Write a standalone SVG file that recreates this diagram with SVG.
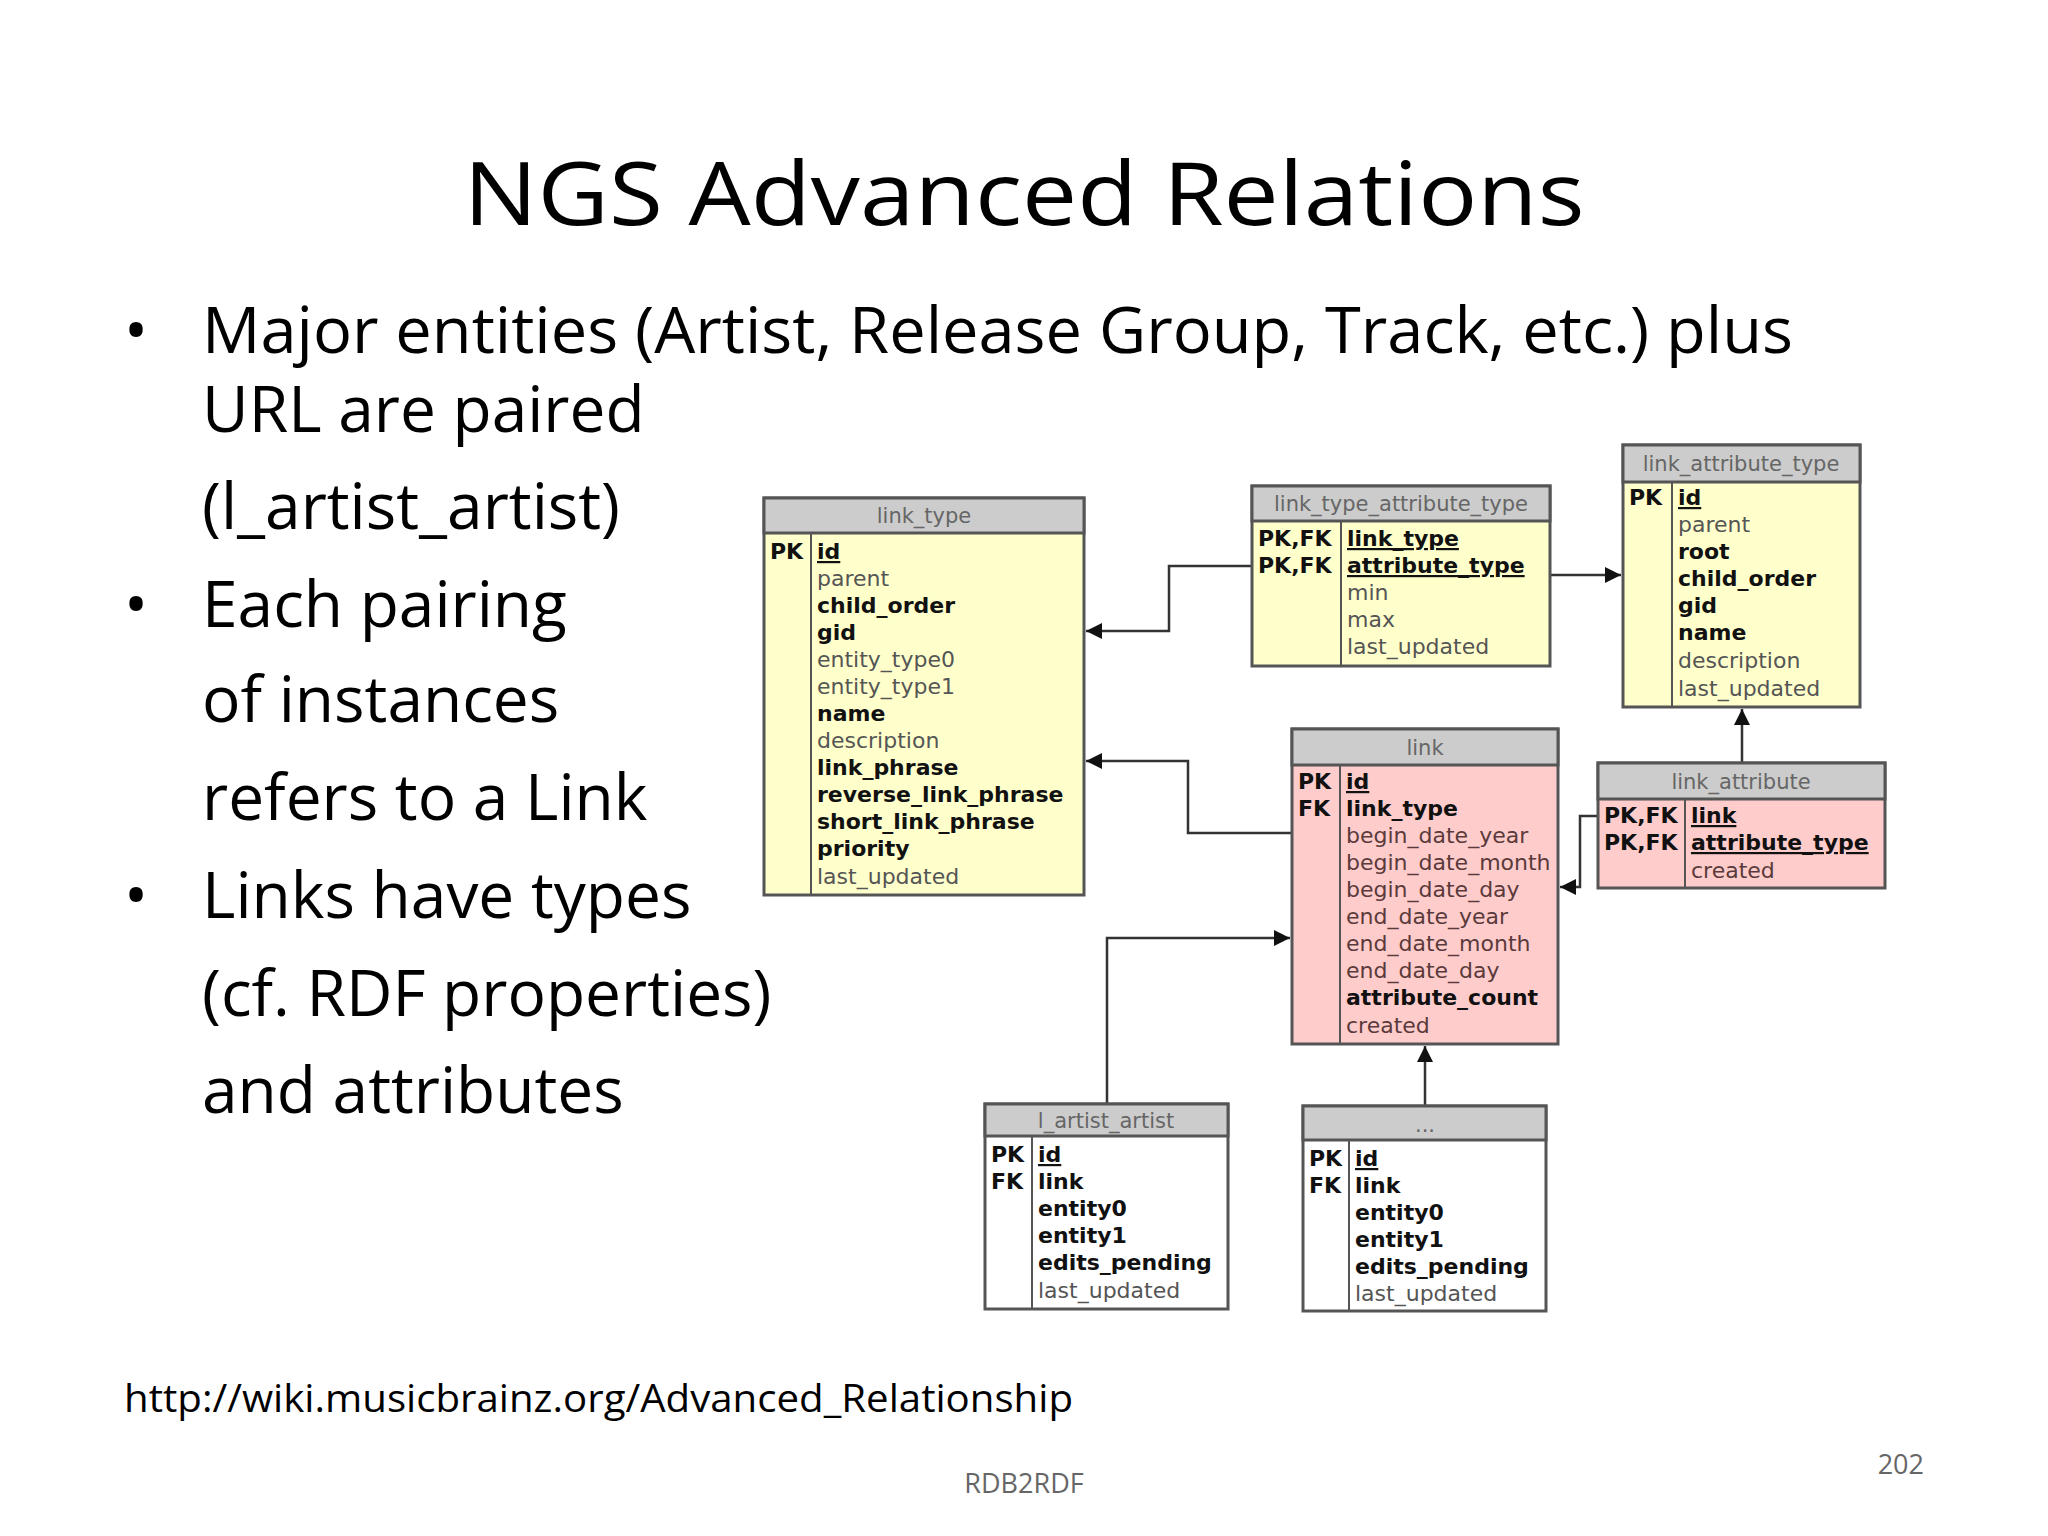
<svg xmlns="http://www.w3.org/2000/svg" width="2048" height="1536" viewBox="0 0 2048 1536">
<defs>
<marker id="ah" viewBox="0 0 10 10" refX="10" refY="5" markerWidth="16" markerHeight="16" markerUnits="userSpaceOnUse" orient="auto"><path d="M0,0 L10,5 L0,10 z" fill="#111"/></marker>
<style>
.s{font-family:"Open Sans","Liberation Sans",sans-serif;fill:#000}
.t{font-family:"DejaVu Sans",sans-serif;font-size:22px;fill:#555}
.b{font-weight:bold;fill:#111}
.u{text-decoration:underline}
.h{font-family:"DejaVu Sans",sans-serif;font-size:21px;fill:#666;text-anchor:middle}
.box{stroke:#555;stroke-width:3}
.hd{fill:#cccccc;stroke:#555;stroke-width:3}
.dv{stroke:#555;stroke-width:2}
.y{fill:#ffffcc}.p{fill:#ffcccc}.w{fill:#fff}
.c{fill:none;stroke:#333;stroke-width:2.5}
</style>
</defs>
<rect width="2048" height="1536" fill="#fff"/>
<text class="s" x="1024" y="225" font-size="88" text-anchor="middle" textLength="1121" lengthAdjust="spacingAndGlyphs">NGS Advanced Relations</text>
<g class="s" font-size="64">
<text x="124" y="353">•</text>
<text x="202" y="353" textLength="1591" lengthAdjust="spacingAndGlyphs">Major entities (Artist, Release Group, Track, etc.) plus</text>
<text x="202" y="432">URL are paired</text>
<text x="202" y="529">(l_artist_artist)</text>
<text x="124" y="627">•</text>
<text x="202" y="627">Each pairing</text>
<text x="202" y="722">of instances</text>
<text x="202" y="820">refers to a Link</text>
<text x="124" y="918">•</text>
<text x="202" y="918">Links have types</text>
<text x="202" y="1016">(cf. RDF properties)</text>
<text x="202" y="1113">and attributes</text>
</g>
<text class="s" x="124" y="1412" font-size="38" fill="#222" textLength="949" lengthAdjust="spacingAndGlyphs">http://wiki.musicbrainz.org/Advanced_Relationship</text>
<text class="s" x="1024" y="1493" font-size="27" text-anchor="middle" style="fill:#666">RDB2RDF</text>
<text class="s" x="1924" y="1474" font-size="27" text-anchor="end" style="fill:#666">202</text>

<g id="connectors">
<polyline class="c" points="1252,566 1169,566 1169,631 1086,631" marker-end="url(#ah)"/>
<polyline class="c" points="1292,833 1188,833 1188,761 1086,761" marker-end="url(#ah)"/>
<polyline class="c" points="1550,575 1621,575" marker-end="url(#ah)"/>
<polyline class="c" points="1742,763 1742,709" marker-end="url(#ah)"/>
<polyline class="c" points="1598,816 1580,816 1580,887 1560,887" marker-end="url(#ah)"/>
<polyline class="c" points="1107,1104 1107,938 1290,938" marker-end="url(#ah)"/>
<polyline class="c" points="1425,1106 1425,1046" marker-end="url(#ah)"/>
</g>

<g id="link_type">
<rect class="box y" x="764" y="498" width="320" height="397"/>
<rect class="hd" x="764" y="498" width="320" height="35"/>
<line class="dv" x1="811" y1="533" x2="811" y2="895"/>
<text class="h" x="924" y="523">link_type</text>
<text class="t b" x="770" y="559">PK</text>
<g class="t"><text class="b u" x="817" y="559">id</text>
<text x="817" y="586">parent</text>
<text class="b" x="817" y="613">child_order</text>
<text class="b" x="817" y="640">gid</text>
<text x="817" y="667">entity_type0</text>
<text x="817" y="694">entity_type1</text>
<text class="b" x="817" y="721">name</text>
<text x="817" y="748">description</text>
<text class="b" x="817" y="775">link_phrase</text>
<text class="b" x="817" y="802">reverse_link_phrase</text>
<text class="b" x="817" y="829">short_link_phrase</text>
<text class="b" x="817" y="856">priority</text>
<text x="817" y="884">last_updated</text></g>
</g>

<g id="link_type_attribute_type">
<rect class="box y" x="1252" y="486" width="298" height="180"/>
<rect class="hd" x="1252" y="486" width="298" height="35"/>
<line class="dv" x1="1341" y1="521" x2="1341" y2="666"/>
<text class="h" x="1401" y="511">link_type_attribute_type</text>
<text class="t b" x="1258" y="546">PK,FK</text>
<text class="t b" x="1258" y="573">PK,FK</text>
<g class="t"><text class="b u" x="1347" y="546">link_type</text>
<text class="b u" x="1347" y="573">attribute_type</text>
<text x="1347" y="600">min</text>
<text x="1347" y="627">max</text>
<text x="1347" y="654">last_updated</text></g>
</g>

<g id="link_attribute_type">
<rect class="box y" x="1623" y="445" width="237" height="262"/>
<rect class="hd" x="1623" y="445" width="237" height="37"/>
<line class="dv" x1="1672" y1="482" x2="1672" y2="707"/>
<text class="h" x="1741" y="471">link_attribute_type</text>
<text class="t b" x="1629" y="505">PK</text>
<g class="t"><text class="b u" x="1678" y="505">id</text>
<text x="1678" y="532">parent</text>
<text class="b" x="1678" y="559">root</text>
<text class="b" x="1678" y="586">child_order</text>
<text class="b" x="1678" y="613">gid</text>
<text class="b" x="1678" y="640">name</text>
<text x="1678" y="668">description</text>
<text x="1678" y="696">last_updated</text></g>
</g>

<g id="link">
<rect class="box p" x="1292" y="729" width="266" height="315"/>
<rect class="hd" x="1292" y="729" width="266" height="36"/>
<line class="dv" x1="1340" y1="765" x2="1340" y2="1044"/>
<text class="h" x="1425" y="755">link</text>
<text class="t b" x="1298" y="789">PK</text>
<text class="t b" x="1298" y="816">FK</text>
<g class="t" style="fill:#5a3a3a"><text class="b u" x="1346" y="789">id</text>
<text class="b" x="1346" y="816">link_type</text>
<text x="1346" y="843">begin_date_year</text>
<text x="1346" y="870">begin_date_month</text>
<text x="1346" y="897">begin_date_day</text>
<text x="1346" y="924">end_date_year</text>
<text x="1346" y="951">end_date_month</text>
<text x="1346" y="978">end_date_day</text>
<text class="b" x="1346" y="1005">attribute_count</text>
<text x="1346" y="1033">created</text></g>
</g>

<g id="link_attribute">
<rect class="box p" x="1598" y="763" width="287" height="125"/>
<rect class="hd" x="1598" y="763" width="287" height="36"/>
<line class="dv" x1="1685" y1="799" x2="1685" y2="888"/>
<text class="h" x="1741" y="789">link_attribute</text>
<text class="t b" x="1604" y="823">PK,FK</text>
<text class="t b" x="1604" y="850">PK,FK</text>
<g class="t" style="fill:#5a3a3a"><text class="b u" x="1691" y="823">link</text>
<text class="b u" x="1691" y="850">attribute_type</text>
<text x="1691" y="878">created</text></g>
</g>

<g id="l_artist_artist">
<rect class="box w" x="985" y="1104" width="243" height="205"/>
<rect class="hd" x="985" y="1104" width="243" height="32"/>
<line class="dv" x1="1032" y1="1136" x2="1032" y2="1309"/>
<text class="h" x="1106" y="1128">l_artist_artist</text>
<text class="t b" x="991" y="1162">PK</text>
<text class="t b" x="991" y="1189">FK</text>
<g class="t"><text class="b u" x="1038" y="1162">id</text>
<text class="b" x="1038" y="1189">link</text>
<text class="b" x="1038" y="1216">entity0</text>
<text class="b" x="1038" y="1243">entity1</text>
<text class="b" x="1038" y="1270">edits_pending</text>
<text x="1038" y="1298">last_updated</text></g>
</g>

<g id="other_l_table">
<rect class="box w" x="1303" y="1106" width="243" height="205"/>
<rect class="hd" x="1303" y="1106" width="243" height="34"/>
<line class="dv" x1="1349" y1="1140" x2="1349" y2="1311"/>
<text class="h" x="1425" y="1132">...</text>
<text class="t b" x="1309" y="1166">PK</text>
<text class="t b" x="1309" y="1193">FK</text>
<g class="t"><text class="b u" x="1355" y="1166">id</text>
<text class="b" x="1355" y="1193">link</text>
<text class="b" x="1355" y="1220">entity0</text>
<text class="b" x="1355" y="1247">entity1</text>
<text class="b" x="1355" y="1274">edits_pending</text>
<text x="1355" y="1301">last_updated</text></g>
</g>
</svg>
